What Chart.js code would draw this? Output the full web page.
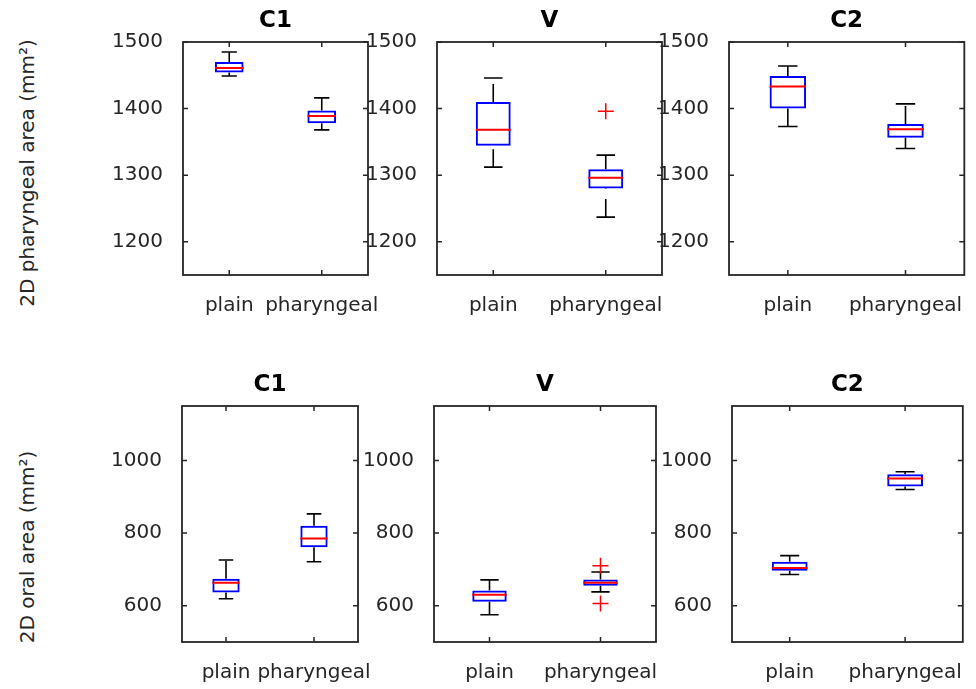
<!DOCTYPE html>
<html>
<head>
<meta charset="utf-8">
<script src="https://cdn.jsdelivr.net/npm/chart.js@4/dist/chart.umd.min.js"></script>
<style>
  html, body { margin: 0; padding: 0; background: #fff; }
  #fig { position: relative; width: 976px; height: 689px; overflow: hidden; }
  #fig canvas { position: absolute; left: 0; top: 0; }
  .ylab {
    position: absolute;
    font-family: "DejaVu Sans";
    font-size: 20px;
    color: #262626;
    white-space: nowrap;
    transform: translate(-50%, -50%) rotate(-90deg);
  }
</style>
</head>
<body>
<div id="fig">
  <div class="ylab" style="left:27px; top:173px">2D pharyngeal area (mm²)</div>
  <div class="ylab" style="left:27px; top:547px">2D oral area (mm²)</div>
</div>
<script>
const categories = ['plain', 'pharyngeal'];
const panelTitles = ['C1', 'V', 'C2'];

// 2D pharyngeal area, one [plain, pharyngeal] pair per panel (C1, V, C2)
const pharLow  = [[1449, 1368], [1312, 1237], [1373, 1340]];
const pharQ1   = [[1454, 1378], [1344, 1280], [1400, 1356]];
const pharMed  = [[1461, 1389], [1368, 1296], [1433, 1369]];
const pharQ3   = [[1470, 1397], [1410, 1309], [1449, 1377]];
const pharHigh = [[1485, 1416], [1446, 1330], [1464, 1407]];
const pharOut  = [[[], []], [[], [1396]], [[], []]];

// 2D oral area
const oralLow  = [[619, 721], [575, 638], [686, 920]];
const oralQ1   = [[636, 761], [611, 655], [696, 928]];
const oralMed  = [[663, 785], [630, 663], [704, 950]];
const oralQ3   = [[674, 820], [642, 672], [721, 962]];
const oralHigh = [[726, 853], [671, 693], [738, 969]];
const oralOut  = [[[], []], [[], [710, 606]], [[], []]];

const pharTicks = [1200, 1300, 1400, 1500];
const oralTicks = [600, 800, 1000];
const pharRange = [1150, 1500];
const oralRange = [500, 1150];

// where the axes boxes sit on the page
const rows = [
  { top: 42, bottom: 275, boxes: [[183, 368], [437, 662], [729, 975]] },
  { top: 406, bottom: 642, boxes: [[182, 358], [434, 656], [732, 973]] }
];

const BOX_W = 0.31, CAP_W = 0.165;
const W = 976, H = 689;
const YSCALE_W = 70, XSCALE_H = 50, TITLE_H = 23 * 1.2 + 7;
const TXT = '#262626';
const tickFont = { family: 'DejaVu Sans', size: 20 };

const frame = {
  id: 'frame',
  afterDraw(chart) {
    const { ctx, chartArea: a, scales: { x, y } } = chart;
    ctx.save();
    ctx.strokeStyle = TXT;
    ctx.lineWidth = 1.8;
    ctx.strokeRect(a.left, a.top, a.right - a.left, a.bottom - a.top);
    ctx.lineWidth = 1.5;
    ctx.beginPath();
    x.ticks.forEach(t => {
      const px = x.getPixelForValue(t.value);
      ctx.moveTo(px, a.bottom); ctx.lineTo(px, a.bottom - 5);
      ctx.moveTo(px, a.top); ctx.lineTo(px, a.top + 5);
    });
    y.ticks.forEach(t => {
      const py = y.getPixelForValue(t.value);
      ctx.moveTo(a.left, py); ctx.lineTo(a.left + 5, py);
      ctx.moveTo(a.right, py); ctx.lineTo(a.right - 5, py);
    });
    ctx.stroke();
    ctx.restore();
  }
};

function drawPanel(row, p, s, ticks, range) {
  const canvas = document.createElement('canvas');
  canvas.width = W; canvas.height = H;
  document.getElementById('fig').appendChild(canvas);
  const [L, R] = row.boxes[p];

  const medians = [], whiskers = [], caps = [], boxes = [], outliers = [];
  categories.forEach((c, i) => {
    const x = i + 1;
    medians.push({ x: x - BOX_W / 2, y: s.med[p][i] }, { x: x + BOX_W / 2, y: s.med[p][i] }, { x: x, y: null });
    whiskers.push({ x: x, y: s.q3[p][i] }, { x: x, y: s.high[p][i] }, { x: x, y: null },
                  { x: x, y: s.low[p][i] }, { x: x, y: s.q1[p][i] }, { x: x, y: null });
    caps.push({ x: x - CAP_W / 2, y: s.high[p][i] }, { x: x + CAP_W / 2, y: s.high[p][i] }, { x: x, y: null },
              { x: x - CAP_W / 2, y: s.low[p][i] }, { x: x + CAP_W / 2, y: s.low[p][i] }, { x: x, y: null });
    boxes.push({ x: x, y: [s.q1[p][i], s.q3[p][i]] });
    s.out[p][i].forEach(v => outliers.push({ x: x, y: v }));
  });

  new Chart(canvas, {
    type: 'bar',
    data: {
      datasets: [
        { type: 'line', data: medians, borderColor: '#ff0000', borderWidth: 2, pointRadius: 0 },
        { type: 'scatter', data: outliers, pointStyle: 'cross', pointRadius: 8, borderColor: '#ff0000', borderWidth: 1.5 },
        { data: boxes, backgroundColor: 'rgba(0,0,0,0)', borderColor: '#0000ff', borderWidth: 2,
          borderSkipped: false, barPercentage: BOX_W, categoryPercentage: 1 },
        { type: 'line', data: whiskers, borderColor: '#000000', borderWidth: 1.6, borderDash: [18, 10], pointRadius: 0 },
        { type: 'line', data: caps, borderColor: '#000000', borderWidth: 1.6, pointRadius: 0 }
      ]
    },
    options: {
      responsive: false,
      animation: false,
      events: [],
      layout: { padding: { left: L - YSCALE_W, right: W - R, top: row.top - TITLE_H, bottom: H - row.bottom - XSCALE_H } },
      plugins: {
        legend: { display: false },
        tooltip: { enabled: false },
        title: {
          display: true, text: panelTitles[p], fullSize: false, color: '#000000',
          font: { family: 'DejaVu Sans', size: 23, weight: 'bold' }, padding: { top: 0, bottom: 7 }
        }
      },
      scales: {
        x: {
          type: 'linear', min: 0.5, max: 2.5, offset: false,
          grid: { display: false }, border: { display: false },
          afterBuildTicks: sc => { sc.ticks = categories.map((c, i) => ({ value: i + 1 })); },
          afterFit: sc => { sc.height = XSCALE_H; },
          ticks: { font: tickFont, color: TXT, padding: 11, maxRotation: 0, autoSkip: false,
                   callback: (v, i) => categories[i] }
        },
        y: {
          min: range[0], max: range[1],
          grid: { display: false }, border: { display: false },
          afterBuildTicks: sc => { sc.ticks = ticks.map(v => ({ value: v })); },
          afterFit: sc => { sc.width = YSCALE_W; },
          ticks: { font: tickFont, color: TXT, padding: 12, callback: v => String(v) }
        }
      }
    },
    plugins: [frame]
  });
}

const phar = { low: pharLow, q1: pharQ1, med: pharMed, q3: pharQ3, high: pharHigh, out: pharOut };
const oral = { low: oralLow, q1: oralQ1, med: oralMed, q3: oralQ3, high: oralHigh, out: oralOut };

for (let p = 0; p < 3; p++) {
  drawPanel(rows[0], p, phar, pharTicks, pharRange);
  drawPanel(rows[1], p, oral, oralTicks, oralRange);
}
</script>
</body>
</html>
